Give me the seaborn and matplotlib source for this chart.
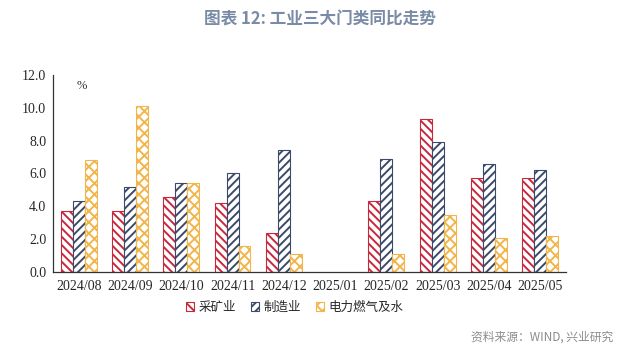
import matplotlib
matplotlib.use("Agg")
import matplotlib.pyplot as plt
import numpy as np
import pandas as pd
import seaborn as sns
from matplotlib.patches import Patch

sns.set_style("white")
plt.rcParams['font.family'] = ['Noto Sans CJK SC', 'DejaVu Sans']
plt.rcParams['hatch.linewidth'] = 1.4

months = ["2024/08", "2024/09", "2024/10", "2024/11", "2024/12",
          "2025/01", "2025/02", "2025/03", "2025/04", "2025/05"]
mining = [3.7, 3.7, 4.6, 4.2, 2.4, np.nan, 4.3, 9.3, 5.7, 5.7]
manufacturing = [4.3, 5.2, 5.4, 6.0, 7.4, np.nan, 6.9, 7.9, 6.6, 6.2]
utilities = [6.8, 10.1, 5.4, 1.6, 1.1, np.nan, 1.1, 3.5, 2.1, 2.2]
series_names = ["采矿业", "制造业", "电力燃气及水"]

colors = ["#C8283C", "#3B4A6B", "#F2B54A"]
hatches = ["\\\\\\\\", "////", "xxx"]

df = pd.DataFrame({"month": months * 3,
                   "value": mining + manufacturing + utilities,
                   "series": [s for s in series_names for _ in months]})

fig = plt.figure(figsize=(6.4, 3.53), dpi=100)
ax = fig.add_axes([0.083, 0.229, 0.801, 0.559])

sns.barplot(data=df, x="month", y="value", hue="series", order=months,
            hue_order=series_names, width=0.7, ax=ax, legend=False)

for cont, col, h in zip(ax.containers, colors, hatches):
    for bar in cont:
        bar.set_facecolor("white")
        bar.set_edgecolor(col)
        bar.set_hatch(h)
        bar.set_linewidth(0.8)

ax.set_ylim(0, 12)
ax.set_yticks(np.arange(0, 12.1, 2))
ax.set_yticklabels([f"{v:.1f}" for v in np.arange(0, 12.1, 2)],
                   family="Liberation Serif", fontsize=10)
ax.set_xlim(-0.5, len(months) - 0.5)
ax.set_xticks(range(len(months)))
ax.set_xticklabels(months, family="Liberation Serif", fontsize=10)
ax.set_xticks(np.arange(-0.5, len(months), 1), minor=True)
ax.tick_params(axis="x", which="major", length=0, pad=6)
ax.tick_params(axis="x", which="minor", length=4, width=0.8, direction="out", color="#333333")
ax.tick_params(axis="y", length=3, width=0.8, direction="out", color="#333333", pad=2)
ax.set_xlabel("")
ax.set_ylabel("")
sns.despine(ax=ax)
for s in ["left", "bottom"]:
    ax.spines[s].set_color("#333333")
    ax.spines[s].set_linewidth(0.9)

ax.text(0.045, 0.93, "%", transform=ax.transAxes, fontsize=9,
        family="Liberation Serif", color="#333333")

handles = [Patch(facecolor="white", edgecolor=c, hatch=h, linewidth=0.8)
           for c, h in zip(colors, hatches)]
fig.legend(handles, series_names, loc="center", bbox_to_anchor=(0.46, 0.13),
           ncol=3, frameon=False, fontsize=9, handlelength=0.7, handleheight=0.7,
           handletextpad=0.3, columnspacing=1.2)

fig.text(0.5, 0.945, "图表 12: 工业三大门类同比走势", ha="center", va="center",
         fontsize=12, fontweight="bold", color="#7A8BA6")
fig.text(0.958, 0.045, "资料来源：WIND, 兴业研究", ha="right", va="center",
         fontsize=8.5, color="#8C8C8C")

fig.savefig("out.png", dpi=100)
